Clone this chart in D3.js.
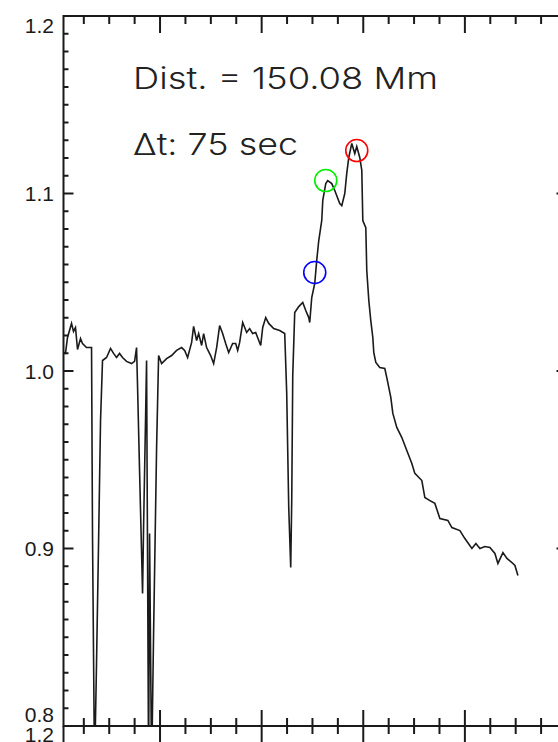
<!DOCTYPE html>
<html><head><meta charset="utf-8">
<script src="https://cdn.jsdelivr.net/npm/d3@7"></script>
<style>html,body{margin:0;padding:0;background:#fff;overflow:hidden}</style>
</head><body>
<script>
// ---- data (time in minutes, normalized intensity) ----
const timeMin = [
 1.0,1.39,1.79,2.58,2.97,3.36,3.76,4.35,4.74,5.53,6.52,
 6.71,7.11,7.50,7.90,8.29,8.68,
 9.47,10.26,10.85,11.44,12.03,12.62,13.41,14.40,14.99,15.38,
 15.58,15.97,16.37,16.56,16.76,17.15,17.35,17.75,17.94,18.34,18.73,19.32,19.72,
 20.31,21.29,22.28,23.26,24.25,24.84,25.43,26.22,26.61,27.20,27.60,28.19,28.58,29.17,29.96,30.55,31.14,31.73,32.32,32.92,33.51,34.29,34.89,35.28,35.67,36.27,37.05,37.64,38.23,38.83,39.81,40.21,40.80,41.39,42.37,43.55,44.54,
 44.93,45.33,45.72,45.92,46.12,46.51,47.30,48.09,48.68,49.27,49.46,49.86,50.45,50.84,51.24,51.83,52.03,52.62,53.01,53.80,54.39,55.37,55.77,56.36,56.75,57.15,57.74,58.33,58.72,59.31,59.71,59.91,60.50,60.69,
 61.09,61.48,61.88,62.07,62.47,63.25,64.24,64.63,65.42,65.82,66.60,67.59,68.57,69.56,70.15,71.53,72.12,73.11,74.09,75.08,76.65,77.44,79.02,80.00,81.38,82.17,82.96,83.94,84.93,85.91,86.50,87.49,88.28,89.26,89.85,90.44
];
const intensity = [
 1.0104,1.0099,1.0189,1.0268,1.0223,1.0245,1.0121,1.0183,1.0155,1.0132,1.0132,
 0.9073,0.775,0.8352,0.9034,0.9721,1.0059,
 1.0076,1.0127,1.0099,1.0076,1.0099,1.0076,1.0054,1.0042,1.0054,1.0132,
 0.9907,0.9439,0.8972,0.8747,0.9118,0.9732,1.0059,0.775,0.9085,0.775,0.8521,0.9563,1.0087,
 1.0042,1.0070,1.0087,1.0116,1.0132,1.0116,1.0076,1.0161,1.0251,1.0172,1.0211,1.0144,1.0211,1.0132,1.0087,1.0042,1.0132,1.0256,1.0211,1.0155,1.0104,1.0155,1.0155,1.0116,1.0161,1.0273,1.0217,1.0239,1.0211,1.0217,1.0144,1.0245,1.0301,1.0268,1.0239,1.0228,1.0211,
 0.9879,0.9231,0.8893,0.9270,0.9975,1.0330,1.0363,1.0386,1.0341,1.0301,1.0273,1.0414,1.0493,1.0623,1.0735,1.0848,1.0961,1.1056,1.1073,1.1056,1.1017,1.0944,1.0932,1.1000,1.1113,1.1203,1.1282,1.1225,1.1265,1.1203,1.1130,1.0848,1.0808,1.0566,
 1.0397,1.0284,1.0189,1.0104,1.0048,1.0020,1.0014,0.9963,0.9851,0.9761,0.9682,0.9625,0.9552,0.9479,0.9423,0.9383,0.9287,0.9270,0.9254,0.9169,0.9158,0.9118,0.9101,0.9056,0.9000,0.9028,0.9000,0.9011,0.9006,0.8972,0.8916,0.8977,0.8944,0.8921,0.8904,0.8848
];
const markerTimes  = [50.45, 52.62, 58.72];
const markerValues = [1.0555, 1.1073, 1.1242];
const markerColors = ["#0000ff", "#00ee00", "#ff0000"];
const yTickValues = [0.8, 0.9, 1.0, 1.1, 1.2];
const yTickLabels = ["0.8", "0.9", "1.0", "1.1", "1.2"];
const xMajorTicks = [20, 40, 60, 80, 100];
const xDomain = [1, 100];
const yDomain = [0.8, 1.2];
const annotations = ["Dist. = 150.08 Mm", "\u0394t: 75 sec"];

// ---- layout ----
const W = 558, H = 742;
const L = 63.5, R = 566.5, T = 16, B = 726;
const svg = d3.select("body").append("svg").attr("width", W).attr("height", H)
  .style("font-family", "'Liberation Sans', Arial, sans-serif");

const x = d3.scaleLinear().domain(xDomain).range([L, R]);
const y = d3.scaleLinear().domain(yDomain).range([B, T]);

const ink = "#1a1a1a";
const xMinor = d3.range(5, 101, 5).filter(v => v >= xDomain[0] && !xMajorTicks.includes(v));
const yMinor = d3.range(80, 121, 1).map(v => v / 100).filter(v => !yTickValues.some(t => Math.abs(t - v) < 1e-9));

// frame
const g = svg.append("g");
g.append("rect").attr("x", L).attr("y", T).attr("width", R - L).attr("height", B - T)
  .attr("fill", "none").attr("stroke", ink).attr("stroke-width", 2);

// top axis ticks (downward)
g.selectAll(".tmaj").data(xMajorTicks).join("line")
  .attr("x1", d => x(d)).attr("x2", d => x(d)).attr("y1", T).attr("y2", T + 17)
  .attr("stroke", ink).attr("stroke-width", 2);
g.selectAll(".tmin").data(xMinor).join("line")
  .attr("x1", d => x(d)).attr("x2", d => x(d)).attr("y1", T).attr("y2", T + 8)
  .attr("stroke", ink).attr("stroke-width", 2);
// bottom axis ticks (upward) and lower panel's top ticks (downward)
g.selectAll(".bmaj").data(xMajorTicks).join("line")
  .attr("x1", d => x(d)).attr("x2", d => x(d)).attr("y1", B - 16).attr("y2", B + 17)
  .attr("stroke", ink).attr("stroke-width", 2);
g.selectAll(".bmin").data(xMinor).join("line")
  .attr("x1", d => x(d)).attr("x2", d => x(d)).attr("y1", B - 8).attr("y2", B + 8)
  .attr("stroke", ink).attr("stroke-width", 2);
// lower panel left axis continuation
g.append("line").attr("x1", L).attr("x2", L).attr("y1", B).attr("y2", H)
  .attr("stroke", ink).attr("stroke-width", 2);

// left and right axis ticks
g.selectAll(".lmaj").data(yTickValues).join("line")
  .attr("x1", L).attr("x2", L + 10).attr("y1", d => y(d)).attr("y2", d => y(d))
  .attr("stroke", ink).attr("stroke-width", 2);
g.selectAll(".lmin").data(yMinor).join("line")
  .attr("x1", L).attr("x2", L + 5).attr("y1", d => y(d)).attr("y2", d => y(d))
  .attr("stroke", ink).attr("stroke-width", 2);
g.selectAll(".rmaj").data(yTickValues).join("line")
  .attr("x1", R - 10).attr("x2", R).attr("y1", d => y(d)).attr("y2", d => y(d))
  .attr("stroke", ink).attr("stroke-width", 2);
g.selectAll(".rmin").data(yMinor).join("line")
  .attr("x1", R - 5).attr("x2", R).attr("y1", d => y(d)).attr("y2", d => y(d))
  .attr("stroke", ink).attr("stroke-width", 2);

// y tick labels
const labelBaseline = (v) => {
  if (v === yDomain[1]) return y(v) + 17;
  if (v === yDomain[0]) return y(v) - 4;
  return y(v) + 7.5;
};
g.selectAll(".ylab").data(yTickValues).join("text")
  .attr("x", 54).attr("y", d => labelBaseline(d))
  .attr("text-anchor", "end").attr("font-size", 21).attr("fill", ink)
  .text((d, i) => yTickLabels[i]);
// lower panel's top label (1.2), partly cut off by the picture edge as in the reference
g.append("text").attr("x", 54).attr("y", B + 16).attr("text-anchor", "end")
  .attr("font-size", 21).attr("fill", ink).text(yTickLabels[yTickLabels.length - 1]);

// data line, clipped to the frame
svg.append("clipPath").attr("id", "clip").append("rect")
  .attr("x", L).attr("y", T).attr("width", R - L).attr("height", B - T);
const pts = timeMin.map((t, i) => [t, intensity[i]]);
svg.append("path").datum(pts)
  .attr("clip-path", "url(#clip)")
  .attr("fill", "none").attr("stroke", ink).attr("stroke-width", 1.6)
  .attr("stroke-linejoin", "miter")
  .attr("d", d3.line().x(d => x(d[0])).y(d => y(d[1])));

// markers
svg.selectAll(".mk").data(markerTimes).join("circle")
  .attr("cx", d => x(d)).attr("cy", (d, i) => y(markerValues[i])).attr("r", 11)
  .attr("fill", "none").attr("stroke", (d, i) => markerColors[i]).attr("stroke-width", 1.6);

// annotations
svg.append("text").attr("x", 133).attr("y", 89).attr("font-size", 30).attr("fill", "#222")
  .style("font-family", "Inter, 'Liberation Sans', sans-serif").attr("font-weight", 300)
  .attr("textLength", 305).attr("lengthAdjust", "spacingAndGlyphs").text(annotations[0]);
svg.append("text").attr("x", 133).attr("y", 155).attr("font-size", 30).attr("fill", "#222")
  .style("font-family", "Inter, 'Liberation Sans', sans-serif").attr("font-weight", 300)
  .attr("textLength", 165).attr("lengthAdjust", "spacingAndGlyphs").text(annotations[1]);
</script>
</body></html>
